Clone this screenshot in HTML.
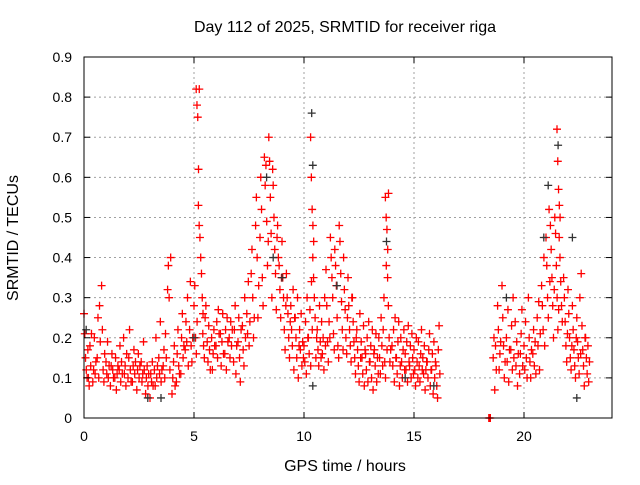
<!DOCTYPE html>
<html><head><meta charset="utf-8"><style>
body{margin:0;background:#fff;}
svg text{font-family:"Liberation Sans",sans-serif;font-size:14px;fill:#000;}
svg text.big{font-size:16px;}
</style></head><body>
<svg id="chart" width="640" height="480" xmlns="http://www.w3.org/2000/svg">
<text class="big" x="345" y="32" text-anchor="middle">Day 112 of 2025, SRMTID for receiver riga</text>
<text class="big" x="345" y="471" text-anchor="middle">GPS time / hours</text>
<text class="big" x="18" y="238" text-anchor="middle" transform="rotate(-90 18 238)">SRMTID / TECUs</text>
<g id="grid"></g><g id="marks"></g><g id="axes"></g>
</svg>
<script>
const xTicks=[0,5,10,15,20];
const yTicks=[0,0.1,0.2,0.3,0.4,0.5,0.6,0.7,0.8,0.9];
const yTickLabels=["0","0.1","0.2","0.3","0.4","0.5","0.6","0.7","0.8","0.9"];
const redTimes=[0.0,0.2,0.4,0.6,0.8,1.0,1.2,1.4,1.6,1.8,2.0,2.2,2.4,2.6,2.8,3.0,3.2,3.4,3.6,3.8,4.0,4.2,4.4,4.6,4.8,5.0,5.1,5.2,5.4,5.6,5.8,6.0,6.2,6.4,6.6,6.8,7.0,7.2,7.4,7.6,7.8,8.0,8.2,8.4,8.6,8.8,9.0,9.2,9.4,9.6,9.8,10.0,10.2,10.3,10.4,10.6,10.8,11.0,11.2,11.4,11.6,11.8,12.0,12.2,12.4,12.6,12.8,13.0,13.2,13.4,13.6,13.7,13.8,14.0,14.2,14.4,14.6,14.8,15.0,15.2,15.4,15.6,15.8,16.0,18.4,18.6,18.8,19.0,19.2,19.4,19.6,19.8,20.0,20.2,20.4,20.6,20.8,21.0,21.2,21.4,21.5,21.6,21.8,22.0,22.2,22.4,22.6,22.8];
const redValues=[
[.26,.21,.15,.12,.10,.17],[.10,.08,.18,.13,.21],[.09,.12,.20,.11,.14],[.15,.25,.10,.28,.19],[.33,.22,.12,.09,.16],
[.14,.11,.19,.10,.13],[.08,.13,.16,.12,.10],[.10,.15,.07,.11,.13],[.12,.18,.09,.14,.11],[.20,.11,.13,.08,.16],
[.10,.15,.22,.12,.09],[.09,.13,.17,.11,.14],[.07,.12,.16,.10,.13],[.14,.09,.11,.19,.12],[.06,.10,.13,.08,.11],
[.05,.11,.09,.14,.08],[.12,.08,.20,.10,.13],[.15,.11,.24,.09,.12],[.13,.17,.10,.21,.15],[.32,.38,.30,.12,.40],
[.06,.10,.14,.18,.08],[.09,.16,.22,.13,.11],[.11,.20,.26,.15,.18],[.17,.24,.19,.30,.13],[.22,.34,.18,.14,.20],
[.28,.33,.20,.16,.24],[.82,.78,.75,.62,.82],[.53,.48,.45,.40,.36,.30,.26],[.21,.18,.15,.25,.28],[.19,.14,.23,.17,.12],
[.20,.12,.16,.22,.18],[.18,.24,.15,.27,.21],[.21,.13,.19,.26,.16],[.16,.22,.12,.25,.19],[.20,.15,.24,.18,.22],
[.14,.22,.28,.11,.18],[.19,.25,.15,.09,.22],[.23,.17,.13,.30,.20],[.26,.21,.34,.18,.24],[.36,.42,.30,.20,.25],
[.48,.55,.40,.25,.33],[.45,.60,.52,.35,.28],[.65,.58,.63,.49,.38,.44],[.70,.64,.55,.46,.30,.62],[.58,.50,.42,.36,.27,.45],
[.48,.40,.38,.32,.25,.35],[.44,.35,.30,.22,.17,.28],[.36,.30,.26,.20,.15,.24],[.28,.22,.18,.32,.12,.25],[.25,.20,.15,.30,.10,.18],
[.22,.17,.26,.13,.19,.15],[.18,.14,.24,.11,.30,.20],[.20,.16,.27,.13,.34,.22],[.70,.60,.52,.48,.44],[.40,.35,.30,.25,.15,.20],
[.22,.17,.13,.28,.19,.15],[.24,.16,.20,.12,.30,.18],[.37,.28,.19,.14,.24,.20],[.45,.40,.35,.30,.21,.17],[.42,.38,.33,.25,.18,.15],
[.48,.44,.36,.29,.22,.17],[.40,.32,.27,.20,.16,.25],[.35,.28,.22,.18,.14,.30],[.30,.24,.19,.15,.11,.20],[.22,.17,.13,.09,.26,.15],
[.19,.15,.11,.23,.08,.17],[.16,.12,.20,.09,.24,.14],[.14,.18,.10,.22,.07,.16],[.17,.13,.21,.09,.15,.11],[.20,.15,.11,.25,.18,.13],
[.22,.30,.14,.10,.38,.17],[.55,.50,.47,.42,.56],[.35,.28,.20,.14,.17],[.18,.13,.22,.09,.25,.15],[.15,.11,.19,.24,.08,.13],
[.20,.14,.10,.17,.22,.12],[.16,.12,.19,.09,.23,.14],[.13,.18,.10,.21,.15,.11],[.17,.12,.08,.20,.14,.10],[.19,.13,.09,.16,.22,.12],
[.15,.11,.18,.07,.12,.14],[.14,.10,.17,.21,.08,.12],[.12,.16,.06,.19,.10,.14],[.13,.08,.05,.17,.23,.11],[0,0,0],
[.15,.20,.07,.18,.12],[.28,.22,.12,.16,.19],[.33,.25,.18,.10,.14],[.20,.14,.27,.09,.17],[.17,.23,.12,.30,.15],
[.24,.13,.19,.08,.16],[.11,.16,.21,.27,.13],[.18,.12,.24,.15,.10],[.30,.20,.14,.10,.17],[.16,.22,.13,.19,.11],
[.25,.18,.29,.12,.21],[.33,.28,.22,.40,.18],[.45,.38,.30,.25,.52,.34],[.48,.42,.35,.28,.20,.32],[.50,.46,.38,.30,.22,.27],
[.72,.64,.57,.53,.50],[.45,.40,.34,.28,.24],[.35,.30,.24,.18,.14,.21],[.32,.26,.20,.15,.12,.18],[.28,.22,.17,.13,.10,.20],
[.25,.19,.15,.11,.30,.16],[.36,.23,.17,.13,.08,.20],[.20,.15,.11,.18,.09,.14]];
const blackTimes=[10.35,10.4,21.55,21.1,22.2,22.4,8.3,13.75,2.9,3.5,10.4,19.2,15.9,5.0,9.0,11.5,20.9,8.6,0.1,14.6];
const blackValues=[.76,.63,.68,.58,.45,.05,.60,.44,.05,.05,.08,.30,.08,.20,.35,.33,.45,.40,.22,.10];
const L=84,R=612,T=57,B=418,xMax=24,yMax=0.9;
const X=t=>L+(R-L)*t/xMax, Y=v=>B-(B-T)*v/yMax;
const NS="http://www.w3.org/2000/svg";
function mk(tag,parent,attrs){const e=document.createElementNS(NS,tag);for(const k in attrs)e.setAttribute(k,attrs[k]);parent.appendChild(e);return e;}
const grid=document.getElementById('grid'),marks=document.getElementById('marks'),axes=document.getElementById('axes');
xTicks.forEach(t=>{
 if(t>0){const g=mk('line',grid,{x1:X(t),x2:X(t),y1:T,y2:B,stroke:'#a0a0a0','stroke-dasharray':'2,3'});
 
 }
 mk('line',axes,{x1:X(t),x2:X(t),y1:B,y2:B-6,stroke:'#000'});
 mk('line',axes,{x1:X(t),x2:X(t),y1:T,y2:T+6,stroke:'#000'});
 const tx=mk('text',axes,{x:X(t),y:B+23,'text-anchor':'middle'});tx.textContent=t;
 
 
});
yTicks.forEach((v,i)=>{
 if(v>0&&v<yMax){const g=mk('line',grid,{x1:L,x2:R,y1:Y(v),y2:Y(v),stroke:'#a0a0a0','stroke-dasharray':'2,3'});
 
 }
 mk('line',axes,{x1:L,x2:L+6,y1:Y(v),y2:Y(v),stroke:'#000'});
 mk('line',axes,{x1:R,x2:R-6,y1:Y(v),y2:Y(v),stroke:'#000'});
 const tx=mk('text',axes,{x:L-12,y:Y(v)+5,'text-anchor':'end'});tx.textContent=yTickLabels[i];
 
 
});
const frame=mk('rect',axes,{x:L,y:T,width:R-L,height:B-T,fill:'none',stroke:'#000'});


function plus(t,v,col){const x=X(t),y=Y(v);
 return mk('path',marks,{d:`M${x-4} ${y}h8M${x} ${y-4}v8`,stroke:col,'stroke-width':1.3,fill:'none'});}
redTimes.forEach((t,gi)=>{redValues[gi].forEach((v,i)=>{
 const p=plus(t+i*0.035,v,'#ff0000');
 
 
});});
blackTimes.forEach((t,i)=>{
 const p=plus(t,blackValues[i],'#333');
 
 
});
</script>
</body></html>
